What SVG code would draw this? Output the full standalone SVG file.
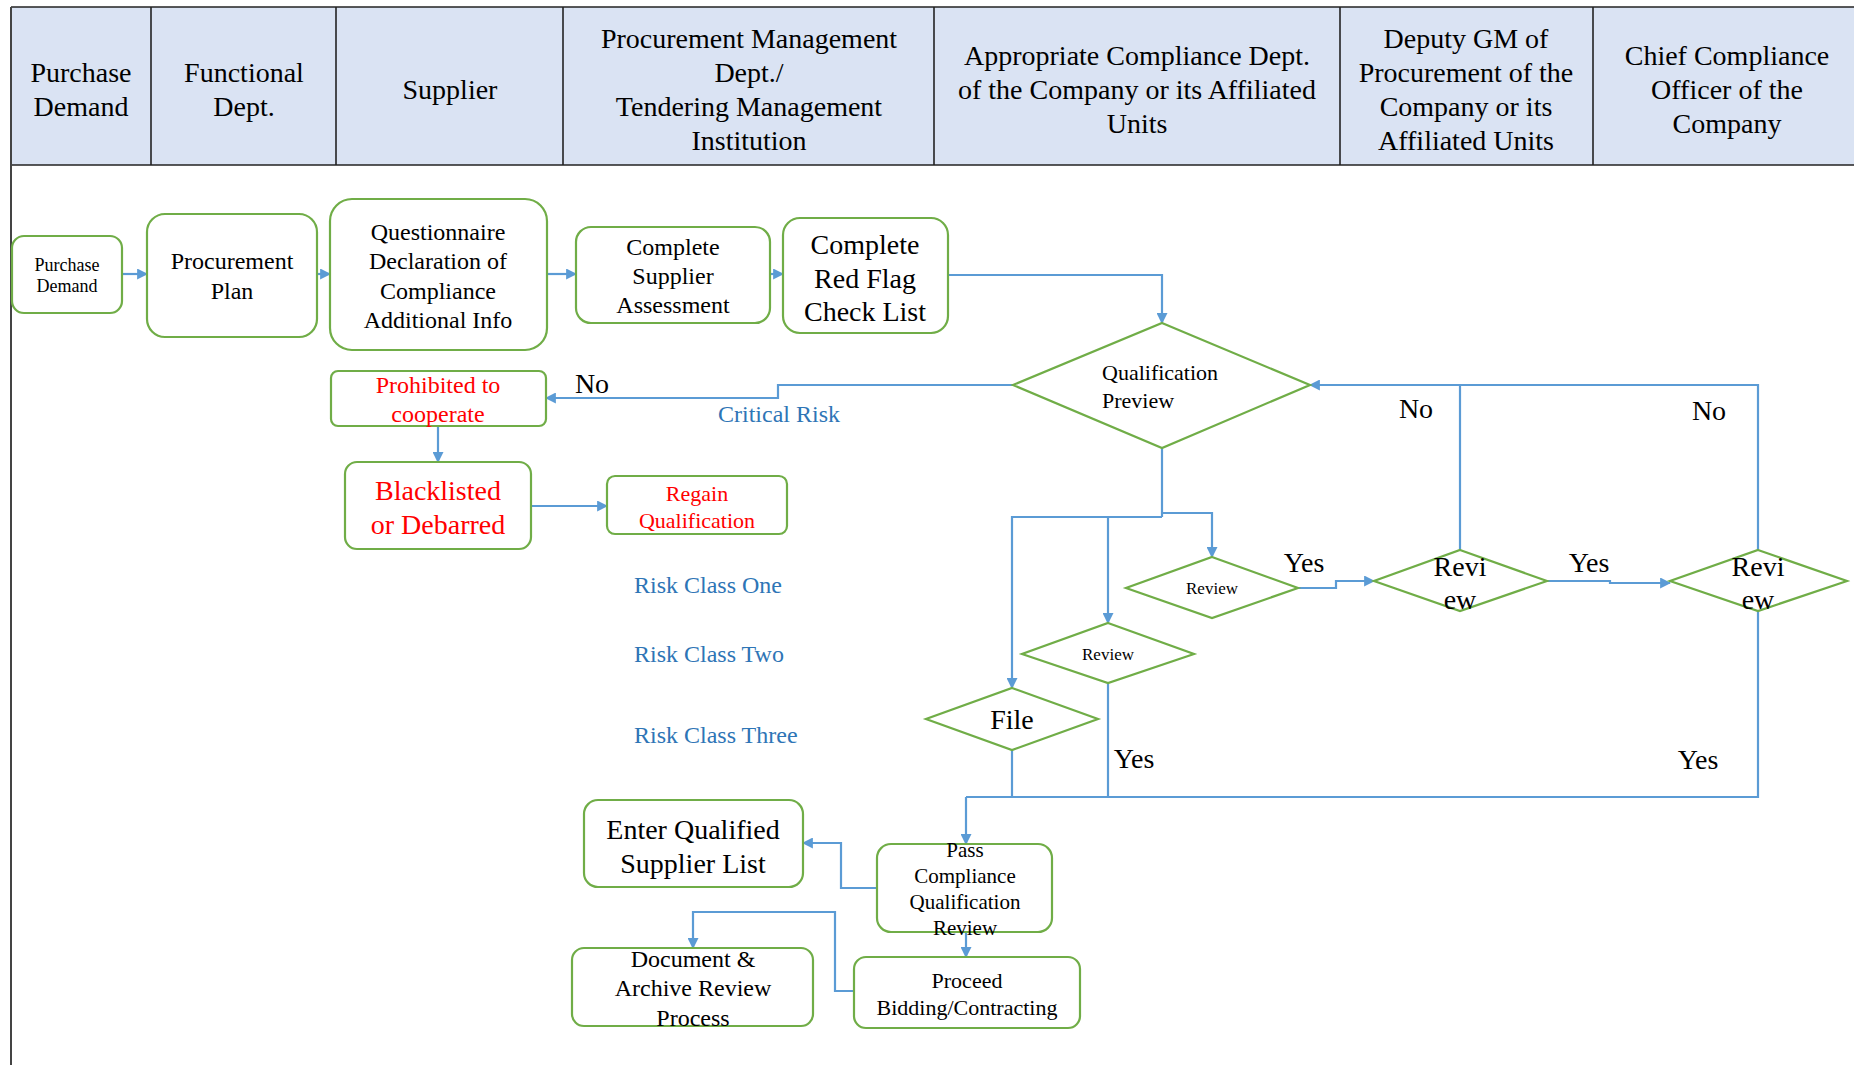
<svg xmlns="http://www.w3.org/2000/svg" width="1854" height="1065" viewBox="0 0 1854 1065">
<defs>
<marker id="ah" viewBox="0 0 10 10" refX="9" refY="5" markerWidth="5" markerHeight="5" orient="auto" markerUnits="strokeWidth">
<path d="M0,0 L10,5 L0,10 z" fill="#5B9BD5"/>
</marker>
<style>
text{font-family:"Liberation Serif","Times New Roman",serif;fill:#000;text-anchor:middle;dominant-baseline:central}
.h{font-size:28px}
.box{fill:#fff;stroke:#70AD47;stroke-width:2.2}
.dm{fill:#fff;stroke:#70AD47;stroke-width:2.2}
.c{fill:none;stroke:#5B9BD5;stroke-width:2.2}
.a{marker-end:url(#ah)}
.red{fill:#FF0000}
.blue{fill:#2E75B6}
.f18{font-size:18px}
.f17{font-size:17px}
.f21{font-size:21px}
.f22{font-size:22px}
.f24{font-size:24px}
.f28{font-size:28px}
.grid{stroke:#222;stroke-width:1.6}
</style>
</defs>
<rect width="1854" height="1065" fill="#fff"/>
<g id="header">
<rect x="11" y="7" width="1843" height="158" fill="#DAE3F3"/>
<line class="grid" x1="11" y1="7" x2="1854" y2="7"/>
<line class="grid" x1="11" y1="165" x2="1854" y2="165"/>
<line x1="11" y1="7" x2="11" y2="1065" stroke="#444" stroke-width="2"/>
<line class="grid" x1="151" y1="7" x2="151" y2="165"/>
<line class="grid" x1="336" y1="7" x2="336" y2="165"/>
<line class="grid" x1="563" y1="7" x2="563" y2="165"/>
<line class="grid" x1="934" y1="7" x2="934" y2="165"/>
<line class="grid" x1="1340" y1="7" x2="1340" y2="165"/>
<line class="grid" x1="1593" y1="7" x2="1593" y2="165"/>
<text class="h" x="81" y="72">Purchase</text>
<text class="h" x="81" y="106">Demand</text>
<text class="h" x="244" y="72">Functional</text>
<text class="h" x="244" y="106">Dept.</text>
<text class="h" x="450" y="89">Supplier</text>
<text class="h" x="749" y="38">Procurement Management</text>
<text class="h" x="749" y="72">Dept./</text>
<text class="h" x="749" y="106">Tendering Management</text>
<text class="h" x="749" y="140">Institution</text>
<text class="h" x="1137" y="55">Appropriate Compliance Dept.</text>
<text class="h" x="1137" y="89">of the Company or its Affiliated</text>
<text class="h" x="1137" y="123">Units</text>
<text class="h" x="1466" y="38">Deputy GM of</text>
<text class="h" x="1466" y="72">Procurement of the</text>
<text class="h" x="1466" y="106">Company or its</text>
<text class="h" x="1466" y="140">Affiliated Units</text>
<text class="h" x="1727" y="55">Chief Compliance</text>
<text class="h" x="1727" y="89">Officer of the</text>
<text class="h" x="1727" y="123">Company</text>
</g>
<g id="connectors">
<path class="c a" d="M122,274 H147"/>
<path class="c a" d="M317,274 H330"/>
<path class="c a" d="M547,274 H576"/>
<path class="c a" d="M770,274 H783"/>
<path class="c a" d="M948,275 H1162 V323"/>
<path class="c a" d="M1013,385 H778 V398 H546"/>
<path class="c a" d="M438,426 V462"/>
<path class="c a" d="M531,506 H607"/>
<path class="c" d="M1162,448 V517"/>
<path class="c a" d="M1162,513 H1212 V557"/>
<path class="c a" d="M1162,517 H1012 V688"/>
<path class="c a" d="M1108,517 V623"/>
<path class="c a" d="M1298,588 H1336 V581 H1374"/>
<path class="c a" d="M1547,581 H1610 V583 H1670"/>
<path class="c" d="M1460,550 V385"/>
<path class="c a" d="M1758,550 V385 H1310"/>
<path class="c" d="M1758,611 V797 H966"/>
<path class="c a" d="M966,797 V844"/>
<path class="c" d="M1108,683 V797"/>
<path class="c" d="M1012,750 V797"/>
<path class="c a" d="M877,888 H841 V843 H803"/>
<path class="c a" d="M966,932 V957"/>
<path class="c a" d="M854,991 H835 V912 H693 V948"/>
</g>
<g id="labels">
<text class="f28" x="592" y="383">No</text>
<text class="f24 blue" x="779" y="414">Critical Risk</text>
<text class="f28" x="1416" y="408">No</text>
<text class="f28" x="1709" y="410">No</text>
<text class="f28" x="1304" y="562">Yes</text>
<text class="f28" x="1589" y="562">Yes</text>
<text class="f28" x="1134" y="758">Yes</text>
<text class="f28" x="1698" y="759">Yes</text>
<text class="f24 blue" x="634" y="585" style="text-anchor:start">Risk Class One</text>
<text class="f24 blue" x="634" y="654" style="text-anchor:start">Risk Class Two</text>
<text class="f24 blue" x="634" y="735" style="text-anchor:start">Risk Class Three</text>
</g>
<g id="purchase-demand">
<rect class="box" x="12" y="236" width="110" height="77" rx="12"/>
<text class="f18" x="67" y="265">Purchase</text>
<text class="f18" x="67" y="286">Demand</text>
</g>
<g id="procurement-plan">
<rect class="box" x="147" y="214" width="170" height="123" rx="18"/>
<text class="f24" x="232" y="261">Procurement</text>
<text class="f24" x="232" y="291">Plan</text>
</g>
<g id="questionnaire">
<rect class="box" x="330" y="199" width="217" height="151" rx="22"/>
<text class="f24" x="438" y="232">Questionnaire</text>
<text class="f24" x="438" y="261">Declaration of</text>
<text class="f24" x="438" y="291">Compliance</text>
<text class="f24" x="438" y="320">Additional Info</text>
</g>
<g id="supplier-assessment">
<rect class="box" x="576" y="227" width="194" height="96" rx="15"/>
<text class="f24" x="673" y="247">Complete</text>
<text class="f24" x="673" y="276">Supplier</text>
<text class="f24" x="673" y="305">Assessment</text>
</g>
<g id="red-flag">
<rect class="box" x="783" y="218" width="165" height="115" rx="17"/>
<text class="f28" x="865" y="244">Complete</text>
<text class="f28" x="865" y="278">Red Flag</text>
<text class="f28" x="865" y="311">Check List</text>
</g>
<g id="qualification-preview">
<polygon class="dm" points="1162,323 1310,385 1162,448 1013,385"/>
<text class="f22" x="1102" y="372" style="text-anchor:start">Qualification</text>
<text class="f22" x="1102" y="400" style="text-anchor:start">Preview</text>
</g>
<g id="prohibited">
<rect class="box" x="331" y="371" width="215" height="55" rx="7"/>
<text class="f24 red" x="438" y="385">Prohibited to</text>
<text class="f24 red" x="438" y="414">cooperate</text>
</g>
<g id="blacklisted">
<rect class="box" x="345" y="462" width="186" height="87" rx="12"/>
<text class="f28 red" x="438" y="490">Blacklisted</text>
<text class="f28 red" x="438" y="524">or Debarred</text>
</g>
<g id="regain">
<rect class="box" x="607" y="476" width="180" height="58" rx="8"/>
<text class="f22 red" x="697" y="493">Regain</text>
<text class="f22 red" x="697" y="520">Qualification</text>
</g>
<g id="review-compliance">
<polygon class="dm" points="1212,557 1298,588 1212,618 1126,588"/>
<text class="f17" x="1212" y="588">Review</text>
</g>
<g id="review-class-two">
<polygon class="dm" points="1108,623 1194,654 1108,683 1022,654"/>
<text class="f17" x="1108" y="654">Review</text>
</g>
<g id="file">
<polygon class="dm" points="1012,688 1098,719 1012,750 926,719"/>
<text class="f28" x="1012" y="719">File</text>
</g>
<g id="review-deputy">
<polygon class="dm" points="1460,550 1547,581 1460,611 1374,581"/>
<text class="f28" x="1460" y="566">Revi</text>
<text class="f28" x="1460" y="599">ew</text>
</g>
<g id="review-chief">
<polygon class="dm" points="1758,550 1847,581 1758,611 1670,581"/>
<text class="f28" x="1758" y="566">Revi</text>
<text class="f28" x="1758" y="599">ew</text>
</g>
<g id="enter-qualified">
<rect class="box" x="584" y="800" width="219" height="87" rx="14"/>
<text class="f28" x="693" y="829">Enter Qualified</text>
<text class="f28" x="693" y="863">Supplier List</text>
</g>
<g id="pass-review">
<rect class="box" x="877" y="844" width="175" height="88" rx="14"/>
<text class="f21" x="965" y="850">Pass</text>
<text class="f21" x="965" y="876">Compliance</text>
<text class="f21" x="965" y="902">Qualification</text>
<text class="f21" x="965" y="928">Review</text>
</g>
<g id="document-archive">
<rect class="box" x="572" y="948" width="241" height="78" rx="12"/>
<text class="f24" x="693" y="959">Document &amp;</text>
<text class="f24" x="693" y="988">Archive Review</text>
<text class="f24" x="693" y="1018">Process</text>
</g>
<g id="proceed-bidding">
<rect class="box" x="854" y="957" width="226" height="71" rx="12"/>
<text class="f22" x="967" y="980">Proceed</text>
<text class="f22" x="967" y="1007">Bidding/Contracting</text>
</g>
</svg>
